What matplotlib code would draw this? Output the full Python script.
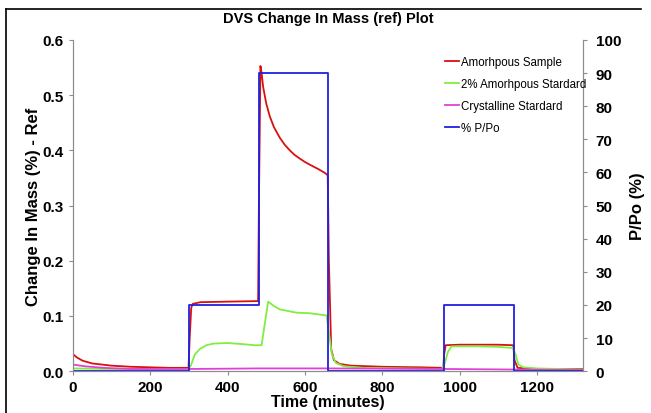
import matplotlib
matplotlib.use("Agg")
import matplotlib.pyplot as plt
from matplotlib.lines import Line2D

plt.rcParams['font.family'] = ['Liberation Sans', 'DejaVu Sans']

# % P/Po step profile
t_rh = [0, 300, 300, 480, 480, 660, 660, 960, 960, 1140, 1140, 1320]
rh = [0, 0, 20, 20, 90, 90, 0, 0, 20, 20, 0, 0]

# Amorhpous Sample
t_amorph = [0, 10, 25, 50, 100, 150, 200, 250, 299, 302, 306, 310, 330, 400, 479,
            481, 485, 488, 492, 500, 509, 520, 535, 548, 561, 573, 585, 600, 613,
            635, 652, 659, 662, 668, 675, 690, 720, 800, 900, 958, 960, 964, 1000,
            1100, 1139, 1142, 1150, 1200, 1320]
m_amorph = [0.031, 0.025, 0.019, 0.014, 0.010, 0.008, 0.007, 0.006, 0.006, 0.06,
            0.115, 0.122, 0.125, 0.126, 0.127, 0.3, 0.553, 0.54, 0.515, 0.485,
            0.462, 0.442, 0.423, 0.410, 0.400, 0.392, 0.386, 0.379, 0.374, 0.366,
            0.359, 0.355, 0.2, 0.04, 0.02, 0.013, 0.010, 0.008, 0.007, 0.006,
            0.03, 0.047, 0.048, 0.048, 0.047, 0.02, 0.006, 0.004, 0.004]

# 2% Amorhpous Stardard
t_std2 = [0, 100, 200, 299, 305, 315, 328, 345, 363, 400, 440, 470, 488, 495, 505,
          520, 535, 578, 612, 656, 662, 670, 680, 700, 750, 850, 955, 962, 970,
          979, 1050, 1100, 1138, 1145, 1152, 1165, 1200, 1320]
m_std2 = [0.005, 0.004, 0.004, 0.004, 0.01, 0.03, 0.04, 0.047, 0.05, 0.051, 0.049,
          0.047, 0.047, 0.08, 0.126, 0.118, 0.112, 0.106, 0.105, 0.101, 0.07,
          0.03, 0.015, 0.009, 0.006, 0.005, 0.004, 0.015, 0.035, 0.045, 0.045,
          0.044, 0.042, 0.03, 0.012, 0.007, 0.005, 0.003]

# Crystalline Stardard
t_cryst = [0, 30, 80, 150, 300, 480, 660, 960, 1140, 1320]
m_cryst = [0.012, 0.009, 0.006, 0.004, 0.004, 0.005, 0.005, 0.004, 0.003, 0.002]

grey = '#8c8c8c'

fig = plt.figure(figsize=(6.51, 4.14), dpi=100)
ax = fig.add_axes([0.112, 0.101, 0.784, 0.800])
ax2 = ax.twinx()

l1, = ax.plot(t_amorph, m_amorph, color='#d81010', lw=1.3, label='Amorhpous Sample')
l2, = ax.plot(t_std2, m_std2, color='#80ee40', lw=1.3, label='2% Amorhpous Stardard')
l3, = ax.plot(t_cryst, m_cryst, color='#e040d8', lw=1.3, label='Crystalline Stardard')
l4, = ax2.plot(t_rh, rh, color='#2020e0', lw=1.3, label='% P/Po')

ax.set_xlim(0, 1320)
ax.set_ylim(0, 0.6)
ax2.set_ylim(0, 100)
ax.set_xticks(range(0, 1201, 200))
ax.set_yticks([0, 0.1, 0.2, 0.3, 0.4, 0.5, 0.6])
ax.set_yticklabels(['0.0', '0.1', '0.2', '0.3', '0.4', '0.5', '0.6'])
ax2.set_yticks(range(0, 101, 10))

for a in (ax, ax2):
    a.spines['top'].set_visible(False)
    for s in ('left', 'right', 'bottom'):
        a.spines[s].set_color(grey)
    a.tick_params(colors=grey, length=3, width=0.8, labelcolor='black', labelsize=11)
    for lab in a.get_xticklabels() + a.get_yticklabels():
        lab.set_fontweight('bold')
ax.tick_params(axis='y', pad=4)
ax.tick_params(axis='x', pad=3)
ax2.tick_params(axis='y', pad=6)

ax.set_xlabel('Time (minutes)', fontsize=11.5, fontweight='bold', labelpad=0)
ax.set_ylabel('Change In Mass (%) - Ref', fontsize=12, fontweight='bold', labelpad=1)
ax2.set_ylabel('P/Po (%)', fontsize=12, fontweight='bold', labelpad=6)
ax.set_title('DVS Change In Mass (ref) Plot', fontsize=10.5, fontweight='bold', pad=13)

ax2.legend(handles=[l1, l2, l3, l4], loc='upper left', bbox_to_anchor=(0.72, 0.966),
           frameon=False, fontsize=8.3, handlelength=1.2, handletextpad=0.15,
           labelspacing=0.88, borderaxespad=0)

# image border (left and top)
fig.add_artist(Line2D([0.0092, 0.0092], [0, 0.976], color='black', lw=1.2,
                      transform=fig.transFigure))
fig.add_artist(Line2D([0.0092, 0.985], [0.976, 0.976], color='black', lw=1.2,
                      transform=fig.transFigure))

fig.savefig('out.png', dpi=100)
